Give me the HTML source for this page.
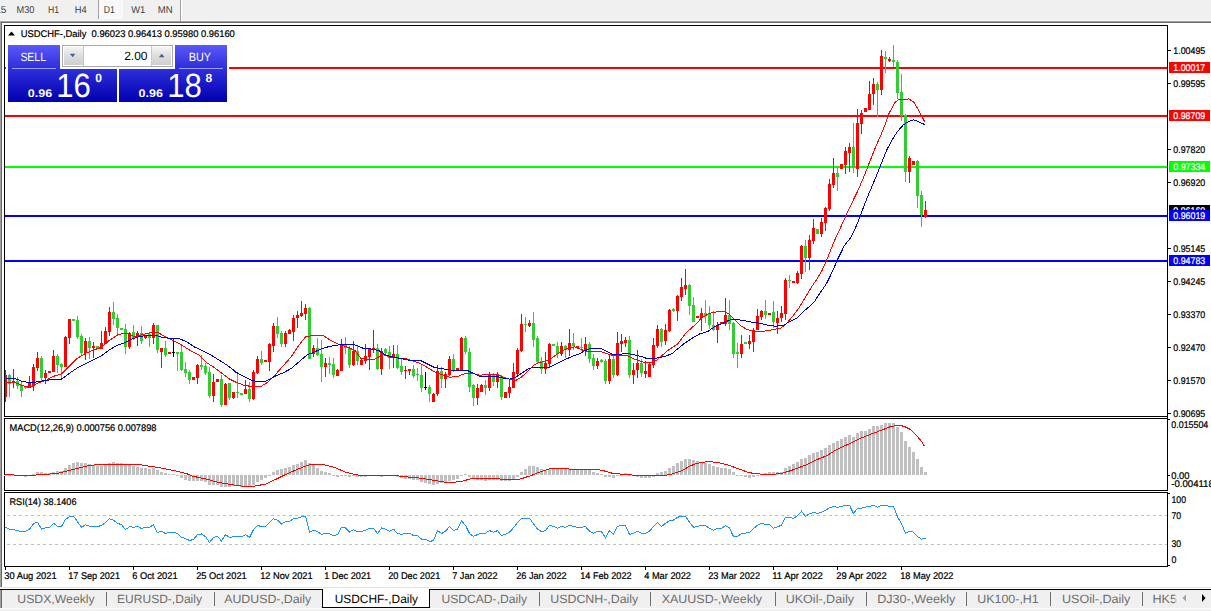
<!DOCTYPE html><html><head><meta charset="utf-8"><title>USDCHF</title><style>html,body{margin:0;padding:0;background:#fff;overflow:hidden}svg{display:block}text{font-family:"Liberation Sans", sans-serif;text-rendering:geometricPrecision}</style></head><body><svg width="1211" height="611" viewBox="0 0 1211 611" font-family='"Liberation Sans", sans-serif' shape-rendering="crispEdges">
<defs>
<linearGradient id="gb" x1="0" y1="0" x2="0" y2="1"><stop offset="0" stop-color="#5a5af6"/><stop offset="0.4" stop-color="#3030dc"/><stop offset="1" stop-color="#0000b4"/></linearGradient>
<linearGradient id="gbtn" x1="0" y1="0" x2="0" y2="1"><stop offset="0" stop-color="#f4f4f4"/><stop offset="0.5" stop-color="#dddddd"/><stop offset="1" stop-color="#cfcfcf"/></linearGradient>
<linearGradient id="gb2" gradientUnits="userSpaceOnUse" x1="0" y1="45" x2="0" y2="102"><stop offset="0" stop-color="#5a5af8"/><stop offset="0.35" stop-color="#3434e0"/><stop offset="1" stop-color="#0000b0"/></linearGradient></defs>
<rect x="0" y="0" width="1211" height="611" fill="#fff"/>
<rect x="0" y="0" width="1211" height="21" fill="#f0f0f0"/>
<rect x="0" y="20" width="1211" height="1" fill="#f6f6f6"/>
<rect x="0" y="21" width="1211" height="1" fill="#a0a0a0"/>
<rect x="1" y="22" width="1211" height="1" fill="#696969"/>
<rect x="0" y="21" width="1" height="567" fill="#a0a0a0"/>
<rect x="1" y="22" width="1" height="565" fill="#696969"/>
<rect x="99" y="0" width="24" height="19" fill="#f8f8f8"/>
<rect x="98" y="0" width="1" height="19" fill="#a0a0a0"/>
<rect x="180" y="0" width="1" height="21" fill="#a0a0a0"/>
<rect x="181" y="0" width="1" height="21" fill="#fff"/>
<text x="6.3" y="13" font-size="10" fill="#404040" text-anchor="end">15</text>
<text x="16.5" y="13" font-size="10" fill="#404040" text-anchor="start" textLength="17.9" lengthAdjust="spacingAndGlyphs">M30</text>
<text x="47.9" y="13" font-size="10" fill="#404040" text-anchor="start" textLength="11.1" lengthAdjust="spacingAndGlyphs">H1</text>
<text x="74.8" y="13" font-size="10" fill="#404040" text-anchor="start" textLength="11.9" lengthAdjust="spacingAndGlyphs">H4</text>
<text x="103.7" y="13" font-size="10" fill="#404040" text-anchor="start" textLength="11.1" lengthAdjust="spacingAndGlyphs">D1</text>
<text x="131.3" y="13" font-size="10" fill="#404040" text-anchor="start" textLength="14.0" lengthAdjust="spacingAndGlyphs">W1</text>
<text x="157.7" y="13" font-size="10" fill="#404040" text-anchor="start" textLength="14.9" lengthAdjust="spacingAndGlyphs">MN</text>
<rect x="5" y="67" width="1162" height="2" fill="#ff0000"/>
<rect x="5" y="115" width="1162" height="2" fill="#ff0000"/>
<rect x="5" y="166" width="1162" height="2" fill="#00ff00"/>
<rect x="5" y="215" width="1162" height="2" fill="#0000ff"/>
<rect x="5" y="260" width="1162" height="2" fill="#0000ff"/>
<rect x="5" y="370" width="1" height="32" fill="#ff0000"/>
<rect x="4" y="375" width="3" height="22" fill="#ff0000"/>
<rect x="9" y="374" width="1" height="23" fill="#32cd32"/>
<rect x="8" y="375" width="3" height="9" fill="#32cd32"/>
<rect x="13" y="369" width="1" height="19" fill="#ff0000"/>
<rect x="12" y="381" width="3" height="2" fill="#ff0000"/>
<rect x="17" y="377" width="1" height="12" fill="#32cd32"/>
<rect x="16" y="381" width="3" height="5" fill="#32cd32"/>
<rect x="21" y="381" width="1" height="16" fill="#32cd32"/>
<rect x="20" y="385" width="3" height="6" fill="#32cd32"/>
<rect x="25" y="386" width="1" height="3" fill="#32cd32"/>
<rect x="24" y="387" width="3" height="1" fill="#32cd32"/>
<rect x="29" y="376" width="1" height="12" fill="#ff0000"/>
<rect x="28" y="383" width="3" height="5" fill="#ff0000"/>
<rect x="33" y="364" width="1" height="27" fill="#ff0000"/>
<rect x="32" y="367" width="3" height="19" fill="#ff0000"/>
<rect x="37" y="352" width="1" height="19" fill="#ff0000"/>
<rect x="36" y="358" width="3" height="10" fill="#ff0000"/>
<rect x="41" y="356" width="1" height="25" fill="#32cd32"/>
<rect x="40" y="358" width="3" height="20" fill="#32cd32"/>
<rect x="45" y="370" width="1" height="14" fill="#ff0000"/>
<rect x="44" y="373" width="3" height="5" fill="#ff0000"/>
<rect x="49" y="371" width="1" height="2" fill="#ff0000"/>
<rect x="48" y="371" width="3" height="2" fill="#ff0000"/>
<rect x="53" y="350" width="1" height="22" fill="#ff0000"/>
<rect x="52" y="356" width="3" height="16" fill="#ff0000"/>
<rect x="57" y="354" width="1" height="19" fill="#32cd32"/>
<rect x="56" y="356" width="3" height="9" fill="#32cd32"/>
<rect x="61" y="363" width="1" height="16" fill="#32cd32"/>
<rect x="60" y="364" width="3" height="3" fill="#32cd32"/>
<rect x="65" y="336" width="1" height="31" fill="#ff0000"/>
<rect x="64" y="337" width="3" height="30" fill="#ff0000"/>
<rect x="69" y="319" width="1" height="25" fill="#ff0000"/>
<rect x="68" y="319" width="3" height="19" fill="#ff0000"/>
<rect x="73" y="319" width="1" height="2" fill="#32cd32"/>
<rect x="72" y="319" width="3" height="2" fill="#32cd32"/>
<rect x="77" y="316" width="1" height="23" fill="#32cd32"/>
<rect x="76" y="320" width="3" height="17" fill="#32cd32"/>
<rect x="81" y="334" width="1" height="21" fill="#32cd32"/>
<rect x="80" y="336" width="3" height="17" fill="#32cd32"/>
<rect x="85" y="338" width="1" height="22" fill="#ff0000"/>
<rect x="84" y="341" width="3" height="12" fill="#ff0000"/>
<rect x="89" y="337" width="1" height="22" fill="#32cd32"/>
<rect x="88" y="341" width="3" height="7" fill="#32cd32"/>
<rect x="93" y="342" width="1" height="16" fill="#ff0000"/>
<rect x="92" y="346" width="3" height="2" fill="#ff0000"/>
<rect x="97" y="346" width="1" height="3" fill="#32cd32"/>
<rect x="96" y="346" width="3" height="3" fill="#32cd32"/>
<rect x="101" y="331" width="1" height="18" fill="#ff0000"/>
<rect x="100" y="343" width="3" height="6" fill="#ff0000"/>
<rect x="105" y="327" width="1" height="17" fill="#ff0000"/>
<rect x="104" y="331" width="3" height="13" fill="#ff0000"/>
<rect x="109" y="307" width="1" height="29" fill="#ff0000"/>
<rect x="108" y="312" width="3" height="20" fill="#ff0000"/>
<rect x="113" y="302" width="1" height="23" fill="#32cd32"/>
<rect x="112" y="312" width="3" height="7" fill="#32cd32"/>
<rect x="117" y="314" width="1" height="21" fill="#32cd32"/>
<rect x="116" y="318" width="3" height="10" fill="#32cd32"/>
<rect x="121" y="328" width="1" height="2" fill="#32cd32"/>
<rect x="120" y="328" width="3" height="2" fill="#32cd32"/>
<rect x="125" y="324" width="1" height="30" fill="#32cd32"/>
<rect x="124" y="329" width="3" height="18" fill="#32cd32"/>
<rect x="129" y="332" width="1" height="17" fill="#ff0000"/>
<rect x="128" y="333" width="3" height="14" fill="#ff0000"/>
<rect x="133" y="325" width="1" height="15" fill="#32cd32"/>
<rect x="132" y="332" width="3" height="6" fill="#32cd32"/>
<rect x="137" y="331" width="1" height="15" fill="#ff0000"/>
<rect x="136" y="333" width="3" height="4" fill="#ff0000"/>
<rect x="141" y="326" width="1" height="18" fill="#32cd32"/>
<rect x="140" y="333" width="3" height="8" fill="#32cd32"/>
<rect x="145" y="335" width="1" height="4" fill="#ff0000"/>
<rect x="144" y="336" width="3" height="2" fill="#ff0000"/>
<rect x="149" y="332" width="1" height="15" fill="#32cd32"/>
<rect x="148" y="334" width="3" height="4" fill="#32cd32"/>
<rect x="153" y="323" width="1" height="21" fill="#ff0000"/>
<rect x="152" y="325" width="3" height="13" fill="#ff0000"/>
<rect x="157" y="325" width="1" height="28" fill="#32cd32"/>
<rect x="156" y="325" width="3" height="25" fill="#32cd32"/>
<rect x="161" y="348" width="1" height="20" fill="#ff0000"/>
<rect x="160" y="348" width="3" height="4" fill="#ff0000"/>
<rect x="165" y="341" width="1" height="16" fill="#32cd32"/>
<rect x="164" y="348" width="3" height="7" fill="#32cd32"/>
<rect x="169" y="352" width="1" height="2" fill="#ff0000"/>
<rect x="168" y="352" width="3" height="2" fill="#ff0000"/>
<rect x="173" y="339" width="1" height="18" fill="#000"/>
<rect x="172" y="352" width="3" height="1" fill="#000"/>
<rect x="177" y="352" width="1" height="19" fill="#32cd32"/>
<rect x="176" y="352" width="3" height="2" fill="#32cd32"/>
<rect x="181" y="344" width="1" height="27" fill="#32cd32"/>
<rect x="180" y="352" width="3" height="18" fill="#32cd32"/>
<rect x="185" y="362" width="1" height="15" fill="#32cd32"/>
<rect x="184" y="369" width="3" height="4" fill="#32cd32"/>
<rect x="189" y="370" width="1" height="14" fill="#32cd32"/>
<rect x="188" y="372" width="3" height="8" fill="#32cd32"/>
<rect x="193" y="377" width="1" height="3" fill="#ff0000"/>
<rect x="192" y="377" width="3" height="3" fill="#ff0000"/>
<rect x="197" y="364" width="1" height="20" fill="#ff0000"/>
<rect x="196" y="365" width="3" height="13" fill="#ff0000"/>
<rect x="201" y="355" width="1" height="15" fill="#32cd32"/>
<rect x="200" y="365" width="3" height="2" fill="#32cd32"/>
<rect x="205" y="363" width="1" height="12" fill="#32cd32"/>
<rect x="204" y="366" width="3" height="7" fill="#32cd32"/>
<rect x="209" y="367" width="1" height="31" fill="#32cd32"/>
<rect x="208" y="372" width="3" height="24" fill="#32cd32"/>
<rect x="213" y="374" width="1" height="28" fill="#ff0000"/>
<rect x="212" y="382" width="3" height="14" fill="#ff0000"/>
<rect x="217" y="379" width="1" height="3" fill="#ff0000"/>
<rect x="216" y="379" width="3" height="3" fill="#ff0000"/>
<rect x="221" y="375" width="1" height="32" fill="#32cd32"/>
<rect x="220" y="379" width="3" height="26" fill="#32cd32"/>
<rect x="225" y="383" width="1" height="22" fill="#ff0000"/>
<rect x="224" y="384" width="3" height="21" fill="#ff0000"/>
<rect x="229" y="383" width="1" height="17" fill="#32cd32"/>
<rect x="228" y="383" width="3" height="15" fill="#32cd32"/>
<rect x="233" y="392" width="1" height="7" fill="#ff0000"/>
<rect x="232" y="392" width="3" height="6" fill="#ff0000"/>
<rect x="237" y="374" width="1" height="24" fill="#32cd32"/>
<rect x="236" y="392" width="3" height="1" fill="#32cd32"/>
<rect x="241" y="393" width="1" height="2" fill="#32cd32"/>
<rect x="240" y="393" width="3" height="2" fill="#32cd32"/>
<rect x="245" y="380" width="1" height="14" fill="#ff0000"/>
<rect x="244" y="389" width="3" height="5" fill="#ff0000"/>
<rect x="249" y="382" width="1" height="20" fill="#32cd32"/>
<rect x="248" y="389" width="3" height="10" fill="#32cd32"/>
<rect x="253" y="370" width="1" height="30" fill="#ff0000"/>
<rect x="252" y="372" width="3" height="27" fill="#ff0000"/>
<rect x="257" y="356" width="1" height="18" fill="#ff0000"/>
<rect x="256" y="359" width="3" height="14" fill="#ff0000"/>
<rect x="261" y="351" width="1" height="14" fill="#32cd32"/>
<rect x="260" y="359" width="3" height="4" fill="#32cd32"/>
<rect x="265" y="360" width="1" height="2" fill="#ff0000"/>
<rect x="264" y="360" width="3" height="2" fill="#ff0000"/>
<rect x="269" y="343" width="1" height="28" fill="#ff0000"/>
<rect x="268" y="344" width="3" height="18" fill="#ff0000"/>
<rect x="273" y="323" width="1" height="29" fill="#ff0000"/>
<rect x="272" y="326" width="3" height="20" fill="#ff0000"/>
<rect x="277" y="317" width="1" height="21" fill="#32cd32"/>
<rect x="276" y="326" width="3" height="8" fill="#32cd32"/>
<rect x="281" y="331" width="1" height="16" fill="#32cd32"/>
<rect x="280" y="333" width="3" height="11" fill="#32cd32"/>
<rect x="285" y="331" width="1" height="16" fill="#ff0000"/>
<rect x="284" y="333" width="3" height="11" fill="#ff0000"/>
<rect x="289" y="329" width="1" height="5" fill="#ff0000"/>
<rect x="288" y="330" width="3" height="4" fill="#ff0000"/>
<rect x="293" y="315" width="1" height="26" fill="#ff0000"/>
<rect x="292" y="318" width="3" height="14" fill="#ff0000"/>
<rect x="297" y="311" width="1" height="17" fill="#ff0000"/>
<rect x="296" y="315" width="3" height="3" fill="#ff0000"/>
<rect x="301" y="301" width="1" height="16" fill="#ff0000"/>
<rect x="300" y="313" width="3" height="3" fill="#ff0000"/>
<rect x="305" y="304" width="1" height="16" fill="#ff0000"/>
<rect x="304" y="308" width="3" height="6" fill="#ff0000"/>
<rect x="309" y="307" width="1" height="52" fill="#32cd32"/>
<rect x="308" y="308" width="3" height="51" fill="#32cd32"/>
<rect x="313" y="345" width="1" height="12" fill="#ff0000"/>
<rect x="312" y="348" width="3" height="6" fill="#ff0000"/>
<rect x="317" y="338" width="1" height="18" fill="#32cd32"/>
<rect x="316" y="348" width="3" height="7" fill="#32cd32"/>
<rect x="321" y="340" width="1" height="42" fill="#32cd32"/>
<rect x="320" y="354" width="3" height="13" fill="#32cd32"/>
<rect x="325" y="358" width="1" height="19" fill="#ff0000"/>
<rect x="324" y="363" width="3" height="4" fill="#ff0000"/>
<rect x="329" y="357" width="1" height="17" fill="#32cd32"/>
<rect x="328" y="363" width="3" height="2" fill="#32cd32"/>
<rect x="333" y="358" width="1" height="20" fill="#32cd32"/>
<rect x="332" y="364" width="3" height="11" fill="#32cd32"/>
<rect x="337" y="369" width="1" height="7" fill="#ff0000"/>
<rect x="336" y="370" width="3" height="6" fill="#ff0000"/>
<rect x="341" y="339" width="1" height="32" fill="#ff0000"/>
<rect x="340" y="344" width="3" height="27" fill="#ff0000"/>
<rect x="345" y="337" width="1" height="17" fill="#32cd32"/>
<rect x="344" y="344" width="3" height="4" fill="#32cd32"/>
<rect x="349" y="346" width="1" height="22" fill="#32cd32"/>
<rect x="348" y="348" width="3" height="17" fill="#32cd32"/>
<rect x="353" y="341" width="1" height="25" fill="#ff0000"/>
<rect x="352" y="351" width="3" height="14" fill="#ff0000"/>
<rect x="357" y="346" width="1" height="19" fill="#32cd32"/>
<rect x="356" y="351" width="3" height="10" fill="#32cd32"/>
<rect x="361" y="359" width="1" height="6" fill="#ff0000"/>
<rect x="360" y="360" width="3" height="5" fill="#ff0000"/>
<rect x="365" y="344" width="1" height="20" fill="#ff0000"/>
<rect x="364" y="356" width="3" height="5" fill="#ff0000"/>
<rect x="369" y="348" width="1" height="22" fill="#ff0000"/>
<rect x="368" y="349" width="3" height="8" fill="#ff0000"/>
<rect x="373" y="330" width="1" height="23" fill="#ff0000"/>
<rect x="372" y="348" width="3" height="2" fill="#ff0000"/>
<rect x="377" y="344" width="1" height="26" fill="#32cd32"/>
<rect x="376" y="348" width="3" height="21" fill="#32cd32"/>
<rect x="381" y="348" width="1" height="27" fill="#ff0000"/>
<rect x="380" y="351" width="3" height="18" fill="#ff0000"/>
<rect x="385" y="348" width="1" height="6" fill="#32cd32"/>
<rect x="384" y="349" width="3" height="4" fill="#32cd32"/>
<rect x="389" y="346" width="1" height="23" fill="#32cd32"/>
<rect x="388" y="352" width="3" height="6" fill="#32cd32"/>
<rect x="393" y="345" width="1" height="23" fill="#ff0000"/>
<rect x="392" y="354" width="3" height="4" fill="#ff0000"/>
<rect x="397" y="345" width="1" height="24" fill="#32cd32"/>
<rect x="396" y="354" width="3" height="14" fill="#32cd32"/>
<rect x="401" y="358" width="1" height="17" fill="#32cd32"/>
<rect x="400" y="366" width="3" height="6" fill="#32cd32"/>
<rect x="405" y="366" width="1" height="13" fill="#ff0000"/>
<rect x="404" y="370" width="3" height="1" fill="#ff0000"/>
<rect x="409" y="369" width="1" height="6" fill="#ff0000"/>
<rect x="408" y="369" width="3" height="2" fill="#ff0000"/>
<rect x="413" y="365" width="1" height="13" fill="#32cd32"/>
<rect x="412" y="369" width="3" height="7" fill="#32cd32"/>
<rect x="417" y="368" width="1" height="13" fill="#32cd32"/>
<rect x="416" y="374" width="3" height="1" fill="#32cd32"/>
<rect x="421" y="364" width="1" height="28" fill="#32cd32"/>
<rect x="420" y="375" width="3" height="13" fill="#32cd32"/>
<rect x="425" y="372" width="1" height="18" fill="#000"/>
<rect x="424" y="387" width="3" height="1" fill="#000"/>
<rect x="429" y="385" width="1" height="17" fill="#32cd32"/>
<rect x="428" y="387" width="3" height="7" fill="#32cd32"/>
<rect x="433" y="393" width="1" height="9" fill="#ff0000"/>
<rect x="432" y="394" width="3" height="8" fill="#ff0000"/>
<rect x="437" y="365" width="1" height="31" fill="#ff0000"/>
<rect x="436" y="371" width="3" height="23" fill="#ff0000"/>
<rect x="441" y="367" width="1" height="21" fill="#32cd32"/>
<rect x="440" y="371" width="3" height="8" fill="#32cd32"/>
<rect x="445" y="372" width="1" height="16" fill="#ff0000"/>
<rect x="444" y="374" width="3" height="5" fill="#ff0000"/>
<rect x="449" y="356" width="1" height="20" fill="#ff0000"/>
<rect x="448" y="359" width="3" height="16" fill="#ff0000"/>
<rect x="453" y="354" width="1" height="18" fill="#32cd32"/>
<rect x="452" y="359" width="3" height="12" fill="#32cd32"/>
<rect x="457" y="368" width="1" height="3" fill="#ff0000"/>
<rect x="456" y="368" width="3" height="3" fill="#ff0000"/>
<rect x="461" y="337" width="1" height="33" fill="#ff0000"/>
<rect x="460" y="338" width="3" height="32" fill="#ff0000"/>
<rect x="465" y="336" width="1" height="18" fill="#32cd32"/>
<rect x="464" y="338" width="3" height="14" fill="#32cd32"/>
<rect x="469" y="348" width="1" height="44" fill="#32cd32"/>
<rect x="468" y="352" width="3" height="35" fill="#32cd32"/>
<rect x="473" y="384" width="1" height="22" fill="#32cd32"/>
<rect x="472" y="385" width="3" height="13" fill="#32cd32"/>
<rect x="477" y="384" width="1" height="21" fill="#ff0000"/>
<rect x="476" y="388" width="3" height="10" fill="#ff0000"/>
<rect x="481" y="384" width="1" height="8" fill="#ff0000"/>
<rect x="480" y="385" width="3" height="7" fill="#ff0000"/>
<rect x="485" y="380" width="1" height="15" fill="#32cd32"/>
<rect x="484" y="385" width="3" height="3" fill="#32cd32"/>
<rect x="489" y="372" width="1" height="19" fill="#ff0000"/>
<rect x="488" y="374" width="3" height="14" fill="#ff0000"/>
<rect x="493" y="373" width="1" height="13" fill="#32cd32"/>
<rect x="492" y="374" width="3" height="8" fill="#32cd32"/>
<rect x="497" y="372" width="1" height="16" fill="#ff0000"/>
<rect x="496" y="375" width="3" height="7" fill="#ff0000"/>
<rect x="501" y="375" width="1" height="25" fill="#32cd32"/>
<rect x="500" y="376" width="3" height="21" fill="#32cd32"/>
<rect x="505" y="392" width="1" height="6" fill="#ff0000"/>
<rect x="504" y="392" width="3" height="6" fill="#ff0000"/>
<rect x="509" y="379" width="1" height="19" fill="#ff0000"/>
<rect x="508" y="387" width="3" height="6" fill="#ff0000"/>
<rect x="513" y="363" width="1" height="25" fill="#ff0000"/>
<rect x="512" y="372" width="3" height="16" fill="#ff0000"/>
<rect x="517" y="348" width="1" height="28" fill="#ff0000"/>
<rect x="516" y="350" width="3" height="24" fill="#ff0000"/>
<rect x="521" y="314" width="1" height="38" fill="#ff0000"/>
<rect x="520" y="324" width="3" height="27" fill="#ff0000"/>
<rect x="525" y="317" width="1" height="15" fill="#32cd32"/>
<rect x="524" y="324" width="3" height="1" fill="#32cd32"/>
<rect x="529" y="320" width="1" height="7" fill="#ff0000"/>
<rect x="528" y="323" width="3" height="3" fill="#ff0000"/>
<rect x="533" y="312" width="1" height="35" fill="#32cd32"/>
<rect x="532" y="323" width="3" height="17" fill="#32cd32"/>
<rect x="537" y="336" width="1" height="27" fill="#32cd32"/>
<rect x="536" y="338" width="3" height="24" fill="#32cd32"/>
<rect x="541" y="357" width="1" height="17" fill="#32cd32"/>
<rect x="540" y="361" width="3" height="8" fill="#32cd32"/>
<rect x="545" y="352" width="1" height="22" fill="#ff0000"/>
<rect x="544" y="363" width="3" height="6" fill="#ff0000"/>
<rect x="549" y="343" width="1" height="25" fill="#ff0000"/>
<rect x="548" y="344" width="3" height="20" fill="#ff0000"/>
<rect x="553" y="344" width="1" height="2" fill="#32cd32"/>
<rect x="552" y="344" width="3" height="2" fill="#32cd32"/>
<rect x="557" y="342" width="1" height="16" fill="#32cd32"/>
<rect x="556" y="346" width="3" height="8" fill="#32cd32"/>
<rect x="561" y="342" width="1" height="14" fill="#ff0000"/>
<rect x="560" y="346" width="3" height="8" fill="#ff0000"/>
<rect x="565" y="345" width="1" height="13" fill="#32cd32"/>
<rect x="564" y="346" width="3" height="4" fill="#32cd32"/>
<rect x="569" y="329" width="1" height="27" fill="#ff0000"/>
<rect x="568" y="343" width="3" height="7" fill="#ff0000"/>
<rect x="573" y="333" width="1" height="17" fill="#32cd32"/>
<rect x="572" y="343" width="3" height="3" fill="#32cd32"/>
<rect x="577" y="346" width="1" height="2" fill="#ff0000"/>
<rect x="576" y="346" width="3" height="2" fill="#ff0000"/>
<rect x="581" y="338" width="1" height="13" fill="#32cd32"/>
<rect x="580" y="347" width="3" height="1" fill="#32cd32"/>
<rect x="585" y="337" width="1" height="19" fill="#ff0000"/>
<rect x="584" y="344" width="3" height="6" fill="#ff0000"/>
<rect x="589" y="342" width="1" height="21" fill="#32cd32"/>
<rect x="588" y="344" width="3" height="15" fill="#32cd32"/>
<rect x="593" y="354" width="1" height="16" fill="#32cd32"/>
<rect x="592" y="358" width="3" height="8" fill="#32cd32"/>
<rect x="597" y="358" width="1" height="11" fill="#ff0000"/>
<rect x="596" y="361" width="3" height="5" fill="#ff0000"/>
<rect x="601" y="359" width="1" height="4" fill="#32cd32"/>
<rect x="600" y="360" width="3" height="2" fill="#32cd32"/>
<rect x="605" y="359" width="1" height="25" fill="#32cd32"/>
<rect x="604" y="361" width="3" height="20" fill="#32cd32"/>
<rect x="609" y="354" width="1" height="30" fill="#ff0000"/>
<rect x="608" y="359" width="3" height="22" fill="#ff0000"/>
<rect x="613" y="354" width="1" height="24" fill="#32cd32"/>
<rect x="612" y="359" width="3" height="16" fill="#32cd32"/>
<rect x="617" y="332" width="1" height="44" fill="#ff0000"/>
<rect x="616" y="343" width="3" height="32" fill="#ff0000"/>
<rect x="621" y="334" width="1" height="18" fill="#ff0000"/>
<rect x="620" y="341" width="3" height="3" fill="#ff0000"/>
<rect x="625" y="337" width="1" height="10" fill="#ff0000"/>
<rect x="624" y="340" width="3" height="3" fill="#ff0000"/>
<rect x="629" y="336" width="1" height="42" fill="#32cd32"/>
<rect x="628" y="340" width="3" height="35" fill="#32cd32"/>
<rect x="633" y="363" width="1" height="21" fill="#ff0000"/>
<rect x="632" y="370" width="3" height="5" fill="#ff0000"/>
<rect x="637" y="350" width="1" height="28" fill="#ff0000"/>
<rect x="636" y="363" width="3" height="7" fill="#ff0000"/>
<rect x="641" y="359" width="1" height="18" fill="#32cd32"/>
<rect x="640" y="363" width="3" height="10" fill="#32cd32"/>
<rect x="645" y="361" width="1" height="17" fill="#ff0000"/>
<rect x="644" y="371" width="3" height="3" fill="#ff0000"/>
<rect x="649" y="362" width="1" height="15" fill="#ff0000"/>
<rect x="648" y="364" width="3" height="13" fill="#ff0000"/>
<rect x="653" y="338" width="1" height="30" fill="#ff0000"/>
<rect x="652" y="345" width="3" height="20" fill="#ff0000"/>
<rect x="657" y="325" width="1" height="23" fill="#ff0000"/>
<rect x="656" y="329" width="3" height="17" fill="#ff0000"/>
<rect x="661" y="328" width="1" height="19" fill="#32cd32"/>
<rect x="660" y="329" width="3" height="13" fill="#32cd32"/>
<rect x="665" y="324" width="1" height="21" fill="#ff0000"/>
<rect x="664" y="330" width="3" height="11" fill="#ff0000"/>
<rect x="669" y="309" width="1" height="23" fill="#ff0000"/>
<rect x="668" y="310" width="3" height="21" fill="#ff0000"/>
<rect x="673" y="308" width="1" height="4" fill="#32cd32"/>
<rect x="672" y="309" width="3" height="2" fill="#32cd32"/>
<rect x="677" y="295" width="1" height="26" fill="#ff0000"/>
<rect x="676" y="296" width="3" height="15" fill="#ff0000"/>
<rect x="681" y="278" width="1" height="23" fill="#ff0000"/>
<rect x="680" y="287" width="3" height="10" fill="#ff0000"/>
<rect x="685" y="269" width="1" height="26" fill="#ff0000"/>
<rect x="684" y="285" width="3" height="4" fill="#ff0000"/>
<rect x="689" y="284" width="1" height="31" fill="#32cd32"/>
<rect x="688" y="285" width="3" height="21" fill="#32cd32"/>
<rect x="693" y="297" width="1" height="25" fill="#32cd32"/>
<rect x="692" y="305" width="3" height="17" fill="#32cd32"/>
<rect x="697" y="316" width="1" height="2" fill="#ff0000"/>
<rect x="696" y="316" width="3" height="2" fill="#ff0000"/>
<rect x="701" y="308" width="1" height="23" fill="#ff0000"/>
<rect x="700" y="313" width="3" height="5" fill="#ff0000"/>
<rect x="705" y="300" width="1" height="23" fill="#32cd32"/>
<rect x="704" y="313" width="3" height="3" fill="#32cd32"/>
<rect x="709" y="306" width="1" height="23" fill="#32cd32"/>
<rect x="708" y="313" width="3" height="12" fill="#32cd32"/>
<rect x="713" y="311" width="1" height="20" fill="#32cd32"/>
<rect x="712" y="325" width="3" height="5" fill="#32cd32"/>
<rect x="717" y="322" width="1" height="21" fill="#ff0000"/>
<rect x="716" y="325" width="3" height="5" fill="#ff0000"/>
<rect x="721" y="322" width="1" height="2" fill="#ff0000"/>
<rect x="720" y="322" width="3" height="2" fill="#ff0000"/>
<rect x="725" y="298" width="1" height="28" fill="#ff0000"/>
<rect x="724" y="315" width="3" height="9" fill="#ff0000"/>
<rect x="729" y="300" width="1" height="30" fill="#32cd32"/>
<rect x="728" y="315" width="3" height="9" fill="#32cd32"/>
<rect x="733" y="322" width="1" height="36" fill="#32cd32"/>
<rect x="732" y="323" width="3" height="31" fill="#32cd32"/>
<rect x="737" y="343" width="1" height="25" fill="#32cd32"/>
<rect x="736" y="352" width="3" height="2" fill="#32cd32"/>
<rect x="741" y="335" width="1" height="23" fill="#ff0000"/>
<rect x="740" y="344" width="3" height="10" fill="#ff0000"/>
<rect x="745" y="342" width="1" height="2" fill="#32cd32"/>
<rect x="744" y="342" width="3" height="2" fill="#32cd32"/>
<rect x="749" y="335" width="1" height="14" fill="#ff0000"/>
<rect x="748" y="341" width="3" height="3" fill="#ff0000"/>
<rect x="753" y="328" width="1" height="24" fill="#ff0000"/>
<rect x="752" y="330" width="3" height="12" fill="#ff0000"/>
<rect x="757" y="309" width="1" height="21" fill="#ff0000"/>
<rect x="756" y="316" width="3" height="14" fill="#ff0000"/>
<rect x="761" y="310" width="1" height="10" fill="#ff0000"/>
<rect x="760" y="311" width="3" height="6" fill="#ff0000"/>
<rect x="765" y="300" width="1" height="19" fill="#32cd32"/>
<rect x="764" y="311" width="3" height="4" fill="#32cd32"/>
<rect x="769" y="313" width="1" height="2" fill="#ff0000"/>
<rect x="768" y="313" width="3" height="2" fill="#ff0000"/>
<rect x="773" y="301" width="1" height="27" fill="#32cd32"/>
<rect x="772" y="312" width="3" height="10" fill="#32cd32"/>
<rect x="777" y="311" width="1" height="23" fill="#ff0000"/>
<rect x="776" y="318" width="3" height="5" fill="#ff0000"/>
<rect x="781" y="306" width="1" height="16" fill="#ff0000"/>
<rect x="780" y="313" width="3" height="5" fill="#ff0000"/>
<rect x="785" y="278" width="1" height="42" fill="#ff0000"/>
<rect x="784" y="280" width="3" height="34" fill="#ff0000"/>
<rect x="789" y="275" width="1" height="13" fill="#32cd32"/>
<rect x="788" y="280" width="3" height="1" fill="#32cd32"/>
<rect x="793" y="281" width="1" height="2" fill="#ff0000"/>
<rect x="792" y="281" width="3" height="2" fill="#ff0000"/>
<rect x="797" y="271" width="1" height="13" fill="#ff0000"/>
<rect x="796" y="273" width="3" height="10" fill="#ff0000"/>
<rect x="801" y="245" width="1" height="34" fill="#ff0000"/>
<rect x="800" y="246" width="3" height="28" fill="#ff0000"/>
<rect x="805" y="240" width="1" height="32" fill="#32cd32"/>
<rect x="804" y="246" width="3" height="12" fill="#32cd32"/>
<rect x="809" y="235" width="1" height="35" fill="#ff0000"/>
<rect x="808" y="240" width="3" height="18" fill="#ff0000"/>
<rect x="813" y="219" width="1" height="25" fill="#ff0000"/>
<rect x="812" y="228" width="3" height="13" fill="#ff0000"/>
<rect x="817" y="229" width="1" height="5" fill="#32cd32"/>
<rect x="816" y="229" width="3" height="5" fill="#32cd32"/>
<rect x="821" y="218" width="1" height="19" fill="#ff0000"/>
<rect x="820" y="222" width="3" height="12" fill="#ff0000"/>
<rect x="825" y="207" width="1" height="24" fill="#ff0000"/>
<rect x="824" y="208" width="3" height="15" fill="#ff0000"/>
<rect x="829" y="179" width="1" height="32" fill="#ff0000"/>
<rect x="828" y="184" width="3" height="25" fill="#ff0000"/>
<rect x="833" y="158" width="1" height="30" fill="#ff0000"/>
<rect x="832" y="173" width="3" height="12" fill="#ff0000"/>
<rect x="837" y="168" width="1" height="23" fill="#32cd32"/>
<rect x="836" y="173" width="3" height="4" fill="#32cd32"/>
<rect x="841" y="164" width="1" height="5" fill="#ff0000"/>
<rect x="840" y="164" width="3" height="5" fill="#ff0000"/>
<rect x="845" y="147" width="1" height="27" fill="#ff0000"/>
<rect x="844" y="151" width="3" height="14" fill="#ff0000"/>
<rect x="849" y="143" width="1" height="29" fill="#ff0000"/>
<rect x="848" y="147" width="3" height="6" fill="#ff0000"/>
<rect x="853" y="123" width="1" height="50" fill="#32cd32"/>
<rect x="852" y="147" width="3" height="21" fill="#32cd32"/>
<rect x="857" y="109" width="1" height="68" fill="#ff0000"/>
<rect x="856" y="123" width="3" height="46" fill="#ff0000"/>
<rect x="861" y="110" width="1" height="24" fill="#ff0000"/>
<rect x="860" y="113" width="3" height="11" fill="#ff0000"/>
<rect x="865" y="108" width="1" height="4" fill="#ff0000"/>
<rect x="864" y="108" width="3" height="4" fill="#ff0000"/>
<rect x="869" y="81" width="1" height="29" fill="#ff0000"/>
<rect x="868" y="94" width="3" height="16" fill="#ff0000"/>
<rect x="873" y="78" width="1" height="27" fill="#ff0000"/>
<rect x="872" y="84" width="3" height="10" fill="#ff0000"/>
<rect x="877" y="82" width="1" height="35" fill="#32cd32"/>
<rect x="876" y="84" width="3" height="6" fill="#32cd32"/>
<rect x="881" y="50" width="1" height="45" fill="#ff0000"/>
<rect x="880" y="56" width="3" height="34" fill="#ff0000"/>
<rect x="885" y="51" width="1" height="22" fill="#32cd32"/>
<rect x="884" y="57" width="3" height="2" fill="#32cd32"/>
<rect x="889" y="57" width="1" height="5" fill="#ff0000"/>
<rect x="888" y="59" width="3" height="2" fill="#ff0000"/>
<rect x="893" y="45" width="1" height="22" fill="#32cd32"/>
<rect x="892" y="60" width="3" height="2" fill="#32cd32"/>
<rect x="897" y="60" width="1" height="39" fill="#32cd32"/>
<rect x="896" y="62" width="3" height="31" fill="#32cd32"/>
<rect x="901" y="74" width="1" height="47" fill="#32cd32"/>
<rect x="900" y="92" width="3" height="24" fill="#32cd32"/>
<rect x="905" y="114" width="1" height="68" fill="#32cd32"/>
<rect x="904" y="115" width="3" height="57" fill="#32cd32"/>
<rect x="909" y="156" width="1" height="27" fill="#ff0000"/>
<rect x="908" y="158" width="3" height="14" fill="#ff0000"/>
<rect x="913" y="161" width="1" height="4" fill="#ff0000"/>
<rect x="912" y="161" width="3" height="4" fill="#ff0000"/>
<rect x="917" y="160" width="1" height="48" fill="#32cd32"/>
<rect x="916" y="161" width="3" height="35" fill="#32cd32"/>
<rect x="921" y="191" width="1" height="36" fill="#32cd32"/>
<rect x="920" y="195" width="3" height="20" fill="#32cd32"/>
<rect x="925" y="201" width="1" height="17" fill="#ff0000"/>
<rect x="924" y="210" width="3" height="7" fill="#ff0000"/>
<polyline points="5.5,383.2 13.9,382.2 21.8,385.2 29.7,387.7 37.7,383.2 45.6,380.6 53.5,376.3 61.4,373.9 69.4,366.3 77.3,358.4 85.2,353.5 93.1,350.1 101.1,347.5 109.0,340.6 118.9,334.2 126.8,333.6 134.8,336.6 142.7,334.6 150.6,332.7 158.5,332.7 166.5,337.6 174.4,341.0 182.3,345.5 190.2,350.5 198.2,354.5 206.1,362.4 214.0,367.3 222.0,373.3 229.9,379.2 236.0,382.2 243.9,385.2 251.9,386.6 260.8,386.6 267.7,382.2 275.6,374.3 283.6,365.4 291.5,356.4 299.4,344.5 305.4,337.0 311.3,335.6 323.2,335.6 331.1,340.6 339.0,344.5 347.0,346.9 354.9,350.5 360.9,358.4 366.8,359.4 374.7,359.4 382.6,354.5 390.6,357.4 398.5,358.0 406.4,358.8 414.4,361.4 422.3,364.4 430.2,369.3 436.2,372.7 444.1,375.3 450.0,377.2 458.0,376.3 465.9,373.3 472.0,373.3 479.9,375.3 487.9,374.3 496.8,374.3 503.7,377.2 509.7,379.2 515.6,380.6 521.5,377.2 527.5,371.3 533.4,365.4 539.4,362.4 545.3,361.4 551.3,358.4 557.2,354.1 563.2,350.5 569.1,347.5 575.0,346.9 581.0,349.5 586.9,351.5 600.8,351.5 606.8,353.5 612.7,355.4 618.6,355.0 626.6,355.4 632.5,358.4 638.5,360.4 644.4,362.4 650.4,362.8 656.3,360.4 662.2,355.4 667.8,350.5 677.8,343.9 685.8,333.0 693.7,326.1 701.6,318.1 709.5,313.2 717.5,311.8 723.4,311.2 729.4,314.2 735.3,320.1 741.3,326.1 747.2,329.6 753.1,331.0 759.1,331.6 765.0,331.0 773.0,329.6 780.9,328.1 786.8,323.1 792.8,316.2 798.7,308.2 804.7,298.3 810.6,288.4 816.6,279.5 822.5,269.6 828.4,255.7 834.4,240.9 840.3,228.0 845.2,217.2 851.2,204.3 857.1,192.4 863.1,178.5 869.0,163.6 874.9,148.8 880.9,134.9 884.9,125.0 889.1,113.3 895.0,102.4 899.0,99.4 904.0,100.0 908.9,98.8 913.9,102.4 918.8,110.3 922.8,118.2 924.8,122.2" fill="none" stroke="#ff0000" stroke-width="1" shape-rendering="crispEdges"/>
<polyline points="5.5,378.2 13.9,378.2 21.8,381.2 29.7,382.6 37.7,381.8 45.6,380.2 53.5,379.8 61.4,379.2 69.4,373.3 77.3,367.9 85.2,364.0 93.1,360.0 101.1,356.0 109.0,350.1 116.9,345.5 124.9,342.6 132.8,338.6 140.7,336.2 148.6,335.6 156.6,335.6 162.5,337.6 170.4,338.2 178.4,338.2 186.3,341.6 194.2,346.9 202.1,350.5 210.1,354.5 218.0,359.4 225.9,364.4 233.9,370.3 236.0,372.3 243.9,376.3 251.9,380.6 259.8,381.8 265.7,381.2 275.6,375.9 283.6,372.7 291.5,368.3 299.4,361.4 307.3,354.8 315.3,351.5 323.2,348.1 331.1,346.1 339.0,344.9 347.0,344.1 354.9,344.9 362.8,348.1 370.8,348.9 378.7,350.5 386.6,355.4 394.5,357.4 402.5,358.8 410.4,360.4 420.3,360.4 426.2,363.4 434.2,367.3 442.1,368.7 450.0,369.9 458.0,370.7 467.9,370.7 472.0,372.7 479.9,376.3 487.9,376.6 495.8,376.3 503.7,378.2 509.7,379.2 515.6,377.2 521.5,373.3 527.5,369.3 533.4,367.3 541.4,367.3 548.3,367.9 555.2,364.4 563.2,360.4 571.1,356.8 579.0,354.1 585.0,350.5 590.9,348.5 600.8,348.5 606.8,351.5 612.7,354.5 618.6,354.8 624.6,353.5 630.5,354.1 636.5,355.4 642.4,356.8 646.4,358.4 654.3,358.4 660.3,357.4 666.2,356.0 672.2,353.5 678.1,348.5 683.8,343.9 691.7,338.4 699.6,334.0 707.6,331.6 715.5,326.1 723.4,323.1 729.4,320.1 735.3,319.1 743.2,320.5 751.2,322.1 759.1,323.1 767.0,325.1 774.9,326.1 782.9,325.7 788.8,322.1 796.7,318.1 802.7,312.2 808.6,307.2 814.6,301.3 820.5,292.4 826.5,283.5 832.4,271.6 838.4,257.7 844.3,245.8 851.2,237.0 857.1,224.1 863.1,208.2 869.0,193.4 874.9,179.5 880.9,164.6 886.8,149.8 892.0,140.0 897.0,132.1 903.0,125.2 908.9,121.2 913.9,119.8 918.8,121.8 924.8,124.6" fill="none" stroke="#0000cd" stroke-width="1" shape-rendering="crispEdges"/>
<rect x="4" y="25" width="1164" height="1" fill="#000"/>
<rect x="4" y="25" width="1" height="392" fill="#000"/>
<rect x="4" y="416" width="1164" height="1" fill="#000"/>
<rect x="1167" y="25" width="1" height="466" fill="#000"/>
<rect x="1167" y="492" width="1" height="75" fill="#000"/>
<path d="M8 35.6 L11.5 31.6 L15 35.6 Z" fill="#000" shape-rendering="auto"/>
<text x="20.8" y="37" font-size="9.7" fill="#000" text-anchor="start" textLength="214" lengthAdjust="spacingAndGlyphs" stroke="#000" stroke-width="0.22">USDCHF-,Daily  0.96023 0.96413 0.95980 0.96160</text>
<rect x="1168" y="50" width="3" height="1" fill="#000"/>
<text x="1173.3" y="54.0" font-size="9.7" fill="#000" text-anchor="start" textLength="32" lengthAdjust="spacingAndGlyphs" stroke="#000" stroke-width="0.22">1.00495</text>
<rect x="1168" y="83" width="3" height="1" fill="#000"/>
<text x="1173.3" y="87.0" font-size="9.7" fill="#000" text-anchor="start" textLength="32" lengthAdjust="spacingAndGlyphs" stroke="#000" stroke-width="0.22">0.99595</text>
<rect x="1168" y="149" width="3" height="1" fill="#000"/>
<text x="1173.3" y="153.0" font-size="9.7" fill="#000" text-anchor="start" textLength="32" lengthAdjust="spacingAndGlyphs" stroke="#000" stroke-width="0.22">0.97820</text>
<rect x="1168" y="182" width="3" height="1" fill="#000"/>
<text x="1173.3" y="186.0" font-size="9.7" fill="#000" text-anchor="start" textLength="32" lengthAdjust="spacingAndGlyphs" stroke="#000" stroke-width="0.22">0.96920</text>
<rect x="1168" y="248" width="3" height="1" fill="#000"/>
<text x="1173.3" y="252.0" font-size="9.7" fill="#000" text-anchor="start" textLength="32" lengthAdjust="spacingAndGlyphs" stroke="#000" stroke-width="0.22">0.95145</text>
<rect x="1168" y="281" width="3" height="1" fill="#000"/>
<text x="1173.3" y="285.0" font-size="9.7" fill="#000" text-anchor="start" textLength="32" lengthAdjust="spacingAndGlyphs" stroke="#000" stroke-width="0.22">0.94245</text>
<rect x="1168" y="314" width="3" height="1" fill="#000"/>
<text x="1173.3" y="318.0" font-size="9.7" fill="#000" text-anchor="start" textLength="32" lengthAdjust="spacingAndGlyphs" stroke="#000" stroke-width="0.22">0.93370</text>
<rect x="1168" y="347" width="3" height="1" fill="#000"/>
<text x="1173.3" y="351.0" font-size="9.7" fill="#000" text-anchor="start" textLength="32" lengthAdjust="spacingAndGlyphs" stroke="#000" stroke-width="0.22">0.92470</text>
<rect x="1168" y="380" width="3" height="1" fill="#000"/>
<text x="1173.3" y="384.0" font-size="9.7" fill="#000" text-anchor="start" textLength="32" lengthAdjust="spacingAndGlyphs" stroke="#000" stroke-width="0.22">0.91570</text>
<rect x="1168" y="413" width="3" height="1" fill="#000"/>
<text x="1173.3" y="417.0" font-size="9.7" fill="#000" text-anchor="start" textLength="32" lengthAdjust="spacingAndGlyphs" stroke="#000" stroke-width="0.22">0.90695</text>
<rect x="1169" y="205" width="41" height="11" fill="#000"/>
<text x="1173.3" y="214" font-size="9.7" fill="#fff" text-anchor="start" textLength="32" lengthAdjust="spacingAndGlyphs" stroke="#fff" stroke-width="0.22">0.96160</text>
<rect x="1169" y="62" width="41" height="11" fill="#ff0000"/>
<text x="1173.3" y="71" font-size="9.7" fill="#fff" text-anchor="start" textLength="32" lengthAdjust="spacingAndGlyphs" stroke="#fff" stroke-width="0.22">1.00017</text>
<rect x="1169" y="110" width="41" height="11" fill="#ff0000"/>
<text x="1173.3" y="119" font-size="9.7" fill="#fff" text-anchor="start" textLength="32" lengthAdjust="spacingAndGlyphs" stroke="#fff" stroke-width="0.22">0.98709</text>
<rect x="1169" y="161" width="41" height="11" fill="#00ff00"/>
<text x="1173.3" y="170" font-size="9.7" fill="#fff" text-anchor="start" textLength="32" lengthAdjust="spacingAndGlyphs" stroke="#fff" stroke-width="0.22">0.97334</text>
<rect x="1169" y="210" width="41" height="11" fill="#0000ff"/>
<text x="1173.3" y="219" font-size="9.7" fill="#fff" text-anchor="start" textLength="32" lengthAdjust="spacingAndGlyphs" stroke="#fff" stroke-width="0.22">0.96019</text>
<rect x="1169" y="255" width="41" height="11" fill="#0000ff"/>
<text x="1173.3" y="264" font-size="9.7" fill="#fff" text-anchor="start" textLength="32" lengthAdjust="spacingAndGlyphs" stroke="#fff" stroke-width="0.22">0.94783</text>
<rect x="6" y="44" width="223" height="59" fill="#fff"/>
<rect x="8" y="45" width="52" height="24" fill="url(#gb)"/>
<rect x="8" y="45" width="109" height="57" fill="none"/>
<path d="M8 45 H60 V69 H117 V102 H8 Z" fill="url(#gb2)"/>
<path d="M227 45 H175 V69 H119 V102 H227 Z" fill="url(#gb2)"/>
<rect x="12" y="68" width="44" height="1" fill="#9c9cf0"/>
<rect x="179" y="68" width="44" height="1" fill="#9c9cf0"/>
<text x="20.4" y="61" font-size="12" fill="#fff" text-anchor="start" textLength="25.6" lengthAdjust="spacingAndGlyphs">SELL</text>
<text x="188.7" y="61" font-size="12" fill="#fff" text-anchor="start" textLength="22.3" lengthAdjust="spacingAndGlyphs">BUY</text>
<rect x="62.5" y="45.5" width="110" height="21" fill="#fff" stroke="#a9a9a9" stroke-width="1"/>
<rect x="64" y="47" width="19" height="18" fill="url(#gbtn)"/>
<rect x="83" y="46" width="1" height="20" fill="#c8c8c8"/>
<rect x="152" y="47" width="19" height="18" fill="url(#gbtn)"/>
<rect x="151" y="46" width="1" height="20" fill="#c8c8c8"/>
<path d="M69.8 53.8 L75.4 53.8 L72.6 57.2 Z" fill="#4a5a9a" shape-rendering="auto"/>
<path d="M158.9 57.2 L164.5 57.2 L161.7 53.8 Z" fill="#4a5a9a" shape-rendering="auto"/>
<text x="147.5" y="60" font-size="12" fill="#000" text-anchor="end">2.00</text>
<text x="27.8" y="97" font-size="11" fill="#fff" text-anchor="start" textLength="24.4" lengthAdjust="spacingAndGlyphs" font-weight="bold">0.96</text>
<text x="56.2" y="97" font-size="33.5" fill="#fff" text-anchor="start" textLength="34.6" lengthAdjust="spacingAndGlyphs">16</text>
<text x="95.2" y="81.5" font-size="12" fill="#fff" text-anchor="start" font-weight="bold">0</text>
<text x="138.5" y="97" font-size="11" fill="#fff" text-anchor="start" textLength="24.4" lengthAdjust="spacingAndGlyphs" font-weight="bold">0.96</text>
<text x="167.2" y="97" font-size="33.5" fill="#fff" text-anchor="start" textLength="34.6" lengthAdjust="spacingAndGlyphs">18</text>
<text x="205.5" y="81.5" font-size="12" fill="#fff" text-anchor="start" font-weight="bold">8</text>
<rect x="4" y="418" width="1164" height="1" fill="#000"/>
<rect x="4" y="418" width="1" height="73" fill="#000"/>
<rect x="4" y="490" width="1164" height="1" fill="#000"/>
<rect x="4" y="475" width="3" height="1" fill="#c0c0c0"/>
<rect x="8" y="475" width="3" height="1" fill="#c0c0c0"/>
<rect x="12" y="475" width="3" height="1" fill="#c0c0c0"/>
<rect x="16" y="475" width="3" height="1" fill="#c0c0c0"/>
<rect x="20" y="475" width="3" height="1" fill="#c0c0c0"/>
<rect x="24" y="475" width="3" height="2" fill="#c0c0c0"/>
<rect x="28" y="475" width="3" height="1" fill="#c0c0c0"/>
<rect x="32" y="474" width="3" height="1" fill="#c0c0c0"/>
<rect x="36" y="472" width="3" height="3" fill="#c0c0c0"/>
<rect x="40" y="472" width="3" height="3" fill="#c0c0c0"/>
<rect x="44" y="473" width="3" height="2" fill="#c0c0c0"/>
<rect x="48" y="473" width="3" height="2" fill="#c0c0c0"/>
<rect x="52" y="472" width="3" height="3" fill="#c0c0c0"/>
<rect x="56" y="471" width="3" height="4" fill="#c0c0c0"/>
<rect x="60" y="471" width="3" height="4" fill="#c0c0c0"/>
<rect x="64" y="468" width="3" height="7" fill="#c0c0c0"/>
<rect x="68" y="465" width="3" height="10" fill="#c0c0c0"/>
<rect x="72" y="463" width="3" height="12" fill="#c0c0c0"/>
<rect x="76" y="462" width="3" height="13" fill="#c0c0c0"/>
<rect x="80" y="463" width="3" height="12" fill="#c0c0c0"/>
<rect x="84" y="463" width="3" height="12" fill="#c0c0c0"/>
<rect x="88" y="464" width="3" height="11" fill="#c0c0c0"/>
<rect x="92" y="465" width="3" height="10" fill="#c0c0c0"/>
<rect x="96" y="466" width="3" height="9" fill="#c0c0c0"/>
<rect x="100" y="466" width="3" height="9" fill="#c0c0c0"/>
<rect x="104" y="465" width="3" height="10" fill="#c0c0c0"/>
<rect x="108" y="463" width="3" height="12" fill="#c0c0c0"/>
<rect x="112" y="462" width="3" height="13" fill="#c0c0c0"/>
<rect x="116" y="463" width="3" height="12" fill="#c0c0c0"/>
<rect x="120" y="463" width="3" height="12" fill="#c0c0c0"/>
<rect x="124" y="465" width="3" height="10" fill="#c0c0c0"/>
<rect x="128" y="465" width="3" height="10" fill="#c0c0c0"/>
<rect x="132" y="466" width="3" height="9" fill="#c0c0c0"/>
<rect x="136" y="467" width="3" height="8" fill="#c0c0c0"/>
<rect x="140" y="468" width="3" height="7" fill="#c0c0c0"/>
<rect x="144" y="468" width="3" height="7" fill="#c0c0c0"/>
<rect x="148" y="469" width="3" height="6" fill="#c0c0c0"/>
<rect x="152" y="468" width="3" height="7" fill="#c0c0c0"/>
<rect x="156" y="470" width="3" height="5" fill="#c0c0c0"/>
<rect x="160" y="472" width="3" height="3" fill="#c0c0c0"/>
<rect x="164" y="473" width="3" height="2" fill="#c0c0c0"/>
<rect x="168" y="474" width="3" height="1" fill="#c0c0c0"/>
<rect x="172" y="474" width="3" height="1" fill="#c0c0c0"/>
<rect x="176" y="475" width="3" height="1" fill="#c0c0c0"/>
<rect x="180" y="475" width="3" height="3" fill="#c0c0c0"/>
<rect x="184" y="475" width="3" height="5" fill="#c0c0c0"/>
<rect x="188" y="475" width="3" height="6" fill="#c0c0c0"/>
<rect x="192" y="475" width="3" height="6" fill="#c0c0c0"/>
<rect x="196" y="475" width="3" height="6" fill="#c0c0c0"/>
<rect x="200" y="475" width="3" height="6" fill="#c0c0c0"/>
<rect x="204" y="475" width="3" height="7" fill="#c0c0c0"/>
<rect x="208" y="475" width="3" height="10" fill="#c0c0c0"/>
<rect x="212" y="475" width="3" height="10" fill="#c0c0c0"/>
<rect x="216" y="475" width="3" height="10" fill="#c0c0c0"/>
<rect x="220" y="475" width="3" height="12" fill="#c0c0c0"/>
<rect x="224" y="475" width="3" height="12" fill="#c0c0c0"/>
<rect x="228" y="475" width="3" height="12" fill="#c0c0c0"/>
<rect x="232" y="475" width="3" height="11" fill="#c0c0c0"/>
<rect x="236" y="475" width="3" height="11" fill="#c0c0c0"/>
<rect x="240" y="475" width="3" height="12" fill="#c0c0c0"/>
<rect x="244" y="475" width="3" height="12" fill="#c0c0c0"/>
<rect x="248" y="475" width="3" height="12" fill="#c0c0c0"/>
<rect x="252" y="475" width="3" height="10" fill="#c0c0c0"/>
<rect x="256" y="475" width="3" height="7" fill="#c0c0c0"/>
<rect x="260" y="475" width="3" height="5" fill="#c0c0c0"/>
<rect x="264" y="475" width="3" height="3" fill="#c0c0c0"/>
<rect x="268" y="475" width="3" height="1" fill="#c0c0c0"/>
<rect x="272" y="472" width="3" height="3" fill="#c0c0c0"/>
<rect x="276" y="470" width="3" height="5" fill="#c0c0c0"/>
<rect x="280" y="469" width="3" height="6" fill="#c0c0c0"/>
<rect x="284" y="468" width="3" height="7" fill="#c0c0c0"/>
<rect x="288" y="467" width="3" height="8" fill="#c0c0c0"/>
<rect x="292" y="465" width="3" height="10" fill="#c0c0c0"/>
<rect x="296" y="464" width="3" height="11" fill="#c0c0c0"/>
<rect x="300" y="462" width="3" height="13" fill="#c0c0c0"/>
<rect x="304" y="460" width="3" height="15" fill="#c0c0c0"/>
<rect x="308" y="463" width="3" height="12" fill="#c0c0c0"/>
<rect x="312" y="465" width="3" height="10" fill="#c0c0c0"/>
<rect x="316" y="468" width="3" height="7" fill="#c0c0c0"/>
<rect x="320" y="471" width="3" height="4" fill="#c0c0c0"/>
<rect x="324" y="472" width="3" height="3" fill="#c0c0c0"/>
<rect x="328" y="473" width="3" height="2" fill="#c0c0c0"/>
<rect x="332" y="475" width="3" height="1" fill="#c0c0c0"/>
<rect x="336" y="475" width="3" height="2" fill="#c0c0c0"/>
<rect x="340" y="475" width="3" height="1" fill="#c0c0c0"/>
<rect x="344" y="475" width="3" height="1" fill="#c0c0c0"/>
<rect x="348" y="475" width="3" height="2" fill="#c0c0c0"/>
<rect x="352" y="475" width="3" height="1" fill="#c0c0c0"/>
<rect x="356" y="475" width="3" height="2" fill="#c0c0c0"/>
<rect x="360" y="475" width="3" height="2" fill="#c0c0c0"/>
<rect x="364" y="475" width="3" height="2" fill="#c0c0c0"/>
<rect x="368" y="475" width="3" height="1" fill="#c0c0c0"/>
<rect x="372" y="475" width="3" height="1" fill="#c0c0c0"/>
<rect x="376" y="475" width="3" height="1" fill="#c0c0c0"/>
<rect x="380" y="475" width="3" height="2" fill="#c0c0c0"/>
<rect x="384" y="475" width="3" height="1" fill="#c0c0c0"/>
<rect x="388" y="475" width="3" height="1" fill="#c0c0c0"/>
<rect x="392" y="475" width="3" height="1" fill="#c0c0c0"/>
<rect x="396" y="475" width="3" height="2" fill="#c0c0c0"/>
<rect x="400" y="475" width="3" height="3" fill="#c0c0c0"/>
<rect x="404" y="475" width="3" height="4" fill="#c0c0c0"/>
<rect x="408" y="475" width="3" height="4" fill="#c0c0c0"/>
<rect x="412" y="475" width="3" height="5" fill="#c0c0c0"/>
<rect x="416" y="475" width="3" height="5" fill="#c0c0c0"/>
<rect x="420" y="475" width="3" height="7" fill="#c0c0c0"/>
<rect x="424" y="475" width="3" height="8" fill="#c0c0c0"/>
<rect x="428" y="475" width="3" height="9" fill="#c0c0c0"/>
<rect x="432" y="475" width="3" height="10" fill="#c0c0c0"/>
<rect x="436" y="475" width="3" height="9" fill="#c0c0c0"/>
<rect x="440" y="475" width="3" height="8" fill="#c0c0c0"/>
<rect x="444" y="475" width="3" height="8" fill="#c0c0c0"/>
<rect x="448" y="475" width="3" height="6" fill="#c0c0c0"/>
<rect x="452" y="475" width="3" height="5" fill="#c0c0c0"/>
<rect x="456" y="475" width="3" height="4" fill="#c0c0c0"/>
<rect x="460" y="475" width="3" height="1" fill="#c0c0c0"/>
<rect x="464" y="474" width="3" height="1" fill="#c0c0c0"/>
<rect x="468" y="475" width="3" height="2" fill="#c0c0c0"/>
<rect x="472" y="475" width="3" height="4" fill="#c0c0c0"/>
<rect x="476" y="475" width="3" height="5" fill="#c0c0c0"/>
<rect x="480" y="475" width="3" height="5" fill="#c0c0c0"/>
<rect x="484" y="475" width="3" height="6" fill="#c0c0c0"/>
<rect x="488" y="475" width="3" height="5" fill="#c0c0c0"/>
<rect x="492" y="475" width="3" height="5" fill="#c0c0c0"/>
<rect x="496" y="475" width="3" height="5" fill="#c0c0c0"/>
<rect x="500" y="475" width="3" height="6" fill="#c0c0c0"/>
<rect x="504" y="475" width="3" height="6" fill="#c0c0c0"/>
<rect x="508" y="475" width="3" height="6" fill="#c0c0c0"/>
<rect x="512" y="475" width="3" height="5" fill="#c0c0c0"/>
<rect x="516" y="475" width="3" height="2" fill="#c0c0c0"/>
<rect x="520" y="472" width="3" height="3" fill="#c0c0c0"/>
<rect x="524" y="469" width="3" height="6" fill="#c0c0c0"/>
<rect x="528" y="466" width="3" height="9" fill="#c0c0c0"/>
<rect x="532" y="466" width="3" height="9" fill="#c0c0c0"/>
<rect x="536" y="467" width="3" height="8" fill="#c0c0c0"/>
<rect x="540" y="469" width="3" height="6" fill="#c0c0c0"/>
<rect x="544" y="470" width="3" height="5" fill="#c0c0c0"/>
<rect x="548" y="469" width="3" height="6" fill="#c0c0c0"/>
<rect x="552" y="468" width="3" height="7" fill="#c0c0c0"/>
<rect x="556" y="468" width="3" height="7" fill="#c0c0c0"/>
<rect x="560" y="468" width="3" height="7" fill="#c0c0c0"/>
<rect x="564" y="468" width="3" height="7" fill="#c0c0c0"/>
<rect x="568" y="469" width="3" height="6" fill="#c0c0c0"/>
<rect x="572" y="469" width="3" height="6" fill="#c0c0c0"/>
<rect x="576" y="469" width="3" height="6" fill="#c0c0c0"/>
<rect x="580" y="469" width="3" height="6" fill="#c0c0c0"/>
<rect x="584" y="469" width="3" height="6" fill="#c0c0c0"/>
<rect x="588" y="470" width="3" height="5" fill="#c0c0c0"/>
<rect x="592" y="472" width="3" height="3" fill="#c0c0c0"/>
<rect x="596" y="473" width="3" height="2" fill="#c0c0c0"/>
<rect x="600" y="474" width="3" height="1" fill="#c0c0c0"/>
<rect x="604" y="475" width="3" height="2" fill="#c0c0c0"/>
<rect x="608" y="475" width="3" height="2" fill="#c0c0c0"/>
<rect x="612" y="475" width="3" height="3" fill="#c0c0c0"/>
<rect x="616" y="475" width="3" height="1" fill="#c0c0c0"/>
<rect x="620" y="475" width="3" height="1" fill="#c0c0c0"/>
<rect x="624" y="473" width="3" height="2" fill="#c0c0c0"/>
<rect x="628" y="475" width="3" height="1" fill="#c0c0c0"/>
<rect x="632" y="475" width="3" height="1" fill="#c0c0c0"/>
<rect x="636" y="475" width="3" height="2" fill="#c0c0c0"/>
<rect x="640" y="475" width="3" height="3" fill="#c0c0c0"/>
<rect x="644" y="475" width="3" height="3" fill="#c0c0c0"/>
<rect x="648" y="475" width="3" height="3" fill="#c0c0c0"/>
<rect x="652" y="475" width="3" height="2" fill="#c0c0c0"/>
<rect x="656" y="473" width="3" height="2" fill="#c0c0c0"/>
<rect x="660" y="472" width="3" height="3" fill="#c0c0c0"/>
<rect x="664" y="471" width="3" height="4" fill="#c0c0c0"/>
<rect x="668" y="468" width="3" height="7" fill="#c0c0c0"/>
<rect x="672" y="466" width="3" height="9" fill="#c0c0c0"/>
<rect x="676" y="463" width="3" height="12" fill="#c0c0c0"/>
<rect x="680" y="461" width="3" height="14" fill="#c0c0c0"/>
<rect x="684" y="459" width="3" height="16" fill="#c0c0c0"/>
<rect x="688" y="459" width="3" height="16" fill="#c0c0c0"/>
<rect x="692" y="460" width="3" height="15" fill="#c0c0c0"/>
<rect x="696" y="461" width="3" height="14" fill="#c0c0c0"/>
<rect x="700" y="462" width="3" height="13" fill="#c0c0c0"/>
<rect x="704" y="463" width="3" height="12" fill="#c0c0c0"/>
<rect x="708" y="464" width="3" height="11" fill="#c0c0c0"/>
<rect x="712" y="466" width="3" height="9" fill="#c0c0c0"/>
<rect x="716" y="467" width="3" height="8" fill="#c0c0c0"/>
<rect x="720" y="468" width="3" height="7" fill="#c0c0c0"/>
<rect x="724" y="468" width="3" height="7" fill="#c0c0c0"/>
<rect x="728" y="469" width="3" height="6" fill="#c0c0c0"/>
<rect x="732" y="472" width="3" height="3" fill="#c0c0c0"/>
<rect x="736" y="475" width="3" height="1" fill="#c0c0c0"/>
<rect x="740" y="475" width="3" height="1" fill="#c0c0c0"/>
<rect x="744" y="475" width="3" height="2" fill="#c0c0c0"/>
<rect x="748" y="475" width="3" height="3" fill="#c0c0c0"/>
<rect x="752" y="475" width="3" height="2" fill="#c0c0c0"/>
<rect x="756" y="475" width="3" height="1" fill="#c0c0c0"/>
<rect x="760" y="474" width="3" height="1" fill="#c0c0c0"/>
<rect x="764" y="473" width="3" height="2" fill="#c0c0c0"/>
<rect x="768" y="472" width="3" height="3" fill="#c0c0c0"/>
<rect x="772" y="472" width="3" height="3" fill="#c0c0c0"/>
<rect x="776" y="472" width="3" height="3" fill="#c0c0c0"/>
<rect x="780" y="472" width="3" height="3" fill="#c0c0c0"/>
<rect x="784" y="468" width="3" height="7" fill="#c0c0c0"/>
<rect x="788" y="466" width="3" height="9" fill="#c0c0c0"/>
<rect x="792" y="464" width="3" height="11" fill="#c0c0c0"/>
<rect x="796" y="462" width="3" height="13" fill="#c0c0c0"/>
<rect x="800" y="459" width="3" height="16" fill="#c0c0c0"/>
<rect x="804" y="458" width="3" height="17" fill="#c0c0c0"/>
<rect x="808" y="455" width="3" height="20" fill="#c0c0c0"/>
<rect x="812" y="453" width="3" height="22" fill="#c0c0c0"/>
<rect x="816" y="452" width="3" height="23" fill="#c0c0c0"/>
<rect x="820" y="450" width="3" height="25" fill="#c0c0c0"/>
<rect x="824" y="448" width="3" height="27" fill="#c0c0c0"/>
<rect x="828" y="445" width="3" height="30" fill="#c0c0c0"/>
<rect x="832" y="443" width="3" height="32" fill="#c0c0c0"/>
<rect x="836" y="441" width="3" height="34" fill="#c0c0c0"/>
<rect x="840" y="439" width="3" height="36" fill="#c0c0c0"/>
<rect x="844" y="437" width="3" height="38" fill="#c0c0c0"/>
<rect x="848" y="435" width="3" height="40" fill="#c0c0c0"/>
<rect x="852" y="437" width="3" height="38" fill="#c0c0c0"/>
<rect x="856" y="433" width="3" height="42" fill="#c0c0c0"/>
<rect x="860" y="431" width="3" height="44" fill="#c0c0c0"/>
<rect x="864" y="431" width="3" height="44" fill="#c0c0c0"/>
<rect x="868" y="429" width="3" height="46" fill="#c0c0c0"/>
<rect x="872" y="426" width="3" height="49" fill="#c0c0c0"/>
<rect x="876" y="426" width="3" height="49" fill="#c0c0c0"/>
<rect x="880" y="425" width="3" height="50" fill="#c0c0c0"/>
<rect x="884" y="423" width="3" height="52" fill="#c0c0c0"/>
<rect x="888" y="423" width="3" height="52" fill="#c0c0c0"/>
<rect x="892" y="423" width="3" height="52" fill="#c0c0c0"/>
<rect x="896" y="427" width="3" height="48" fill="#c0c0c0"/>
<rect x="900" y="432" width="3" height="43" fill="#c0c0c0"/>
<rect x="904" y="441" width="3" height="34" fill="#c0c0c0"/>
<rect x="908" y="447" width="3" height="28" fill="#c0c0c0"/>
<rect x="912" y="452" width="3" height="23" fill="#c0c0c0"/>
<rect x="916" y="459" width="3" height="16" fill="#c0c0c0"/>
<rect x="920" y="467" width="3" height="8" fill="#c0c0c0"/>
<rect x="924" y="472" width="3" height="3" fill="#c0c0c0"/>
<polyline points="5.5,474.5 19.8,475.4 29.7,475.4 39.6,474.8 49.5,474.1 59.5,472.9 69.4,470.5 79.3,467.9 89.2,465.5 99.1,464.5 109.0,464.1 128.8,464.1 138.7,464.5 148.6,466.1 158.5,467.5 168.5,469.5 178.4,471.5 186.3,473.5 192.2,476.0 198.2,477.4 208.1,479.4 218.0,482.4 227.9,484.0 236.0,485.4 243.9,486.3 253.8,486.3 265.7,484.0 275.6,479.4 285.5,474.5 295.5,470.1 305.4,466.1 311.3,464.5 323.2,464.5 335.1,467.5 345.0,472.1 354.9,474.5 364.8,476.0 374.7,475.4 382.6,476.0 394.5,475.4 404.5,476.8 414.4,477.4 424.3,478.8 434.2,480.4 444.1,482.0 454.0,482.4 463.9,480.8 472.0,478.4 483.9,478.4 499.7,478.8 501.7,479.8 517.6,479.8 523.5,478.0 531.5,475.4 539.4,472.1 547.3,469.5 553.3,468.1 567.1,468.1 569.1,469.1 594.9,469.1 602.8,470.5 610.7,472.9 620.6,474.1 630.5,474.8 636.5,475.6 650.4,475.6 666.2,475.2 674.1,473.5 682.1,470.5 690.0,466.1 695.9,463.6 701.9,462.6 708.0,461.4 717.9,462.6 727.8,464.9 737.7,468.5 747.6,472.1 753.6,473.5 761.5,474.1 775.4,474.1 783.3,472.9 791.2,470.5 799.2,467.5 807.1,464.5 817.0,459.6 826.9,455.6 834.8,450.7 842.8,446.7 850.7,443.1 858.6,439.2 866.5,435.8 874.5,432.8 882.4,429.9 888.3,427.3 894.3,425.9 898.3,425.3 904.2,426.3 910.1,429.3 916.1,434.8 921.0,440.8 924.6,446.3" fill="none" stroke="#ff0000" stroke-width="1" shape-rendering="crispEdges"/>
<text x="9.5" y="431" font-size="9.7" fill="#000" text-anchor="start" textLength="147" lengthAdjust="spacingAndGlyphs" stroke="#000" stroke-width="0.22">MACD(12,26,9) 0.000756 0.007898</text>
<text x="1171.3" y="428.3" font-size="9.7" fill="#000" text-anchor="start" textLength="37" lengthAdjust="spacingAndGlyphs" stroke="#000" stroke-width="0.22">0.015504</text>
<text x="1171.3" y="478.8" font-size="9.7" fill="#000" text-anchor="start" textLength="18.2" lengthAdjust="spacingAndGlyphs" stroke="#000" stroke-width="0.22">0.00</text>
<text x="1171.3" y="487.0" font-size="9.7" fill="#000" text-anchor="start" textLength="42.5" lengthAdjust="spacingAndGlyphs" stroke="#000" stroke-width="0.22">-0.004118</text>
<rect x="1168" y="419" width="2" height="1" fill="#000"/>
<rect x="1168" y="475" width="2" height="1" fill="#000"/>
<rect x="4" y="492" width="1164" height="1" fill="#000"/>
<rect x="4" y="492" width="1" height="75" fill="#000"/>
<rect x="4" y="566" width="1164" height="1" fill="#000"/>
<line x1="7" y1="515.5" x2="1167" y2="515.5" stroke="#c0c0c0" stroke-width="1" stroke-dasharray="3,3"/>
<line x1="7" y1="544.5" x2="1167" y2="544.5" stroke="#c0c0c0" stroke-width="1" stroke-dasharray="3,3"/>
<polyline points="5.5,527.3 9.5,529.2 13.5,529.6 17.5,530.6 21.5,531.6 25.5,531.2 29.5,529.2 33.5,523.7 37.5,522.1 41.5,529.2 45.5,527.7 49.5,527.7 53.5,523.3 57.5,526.3 61.5,526.3 65.5,519.3 69.5,516.8 73.5,516.2 77.5,521.7 81.5,527.3 85.5,524.7 89.5,526.3 93.5,526.7 97.5,526.7 101.5,525.3 105.5,522.7 109.5,518.7 113.5,520.1 117.5,523.3 121.5,524.7 125.5,529.6 129.5,526.7 133.5,527.3 137.5,526.3 141.5,528.6 145.5,527.3 149.5,527.3 153.5,524.7 157.5,532.6 161.5,531.2 165.5,533.6 169.5,532.2 173.5,532.2 177.5,533.6 181.5,537.2 185.5,538.6 189.5,540.5 193.5,539.5 197.5,534.6 201.5,534.0 205.5,536.6 209.5,542.5 213.5,537.6 217.5,536.2 221.5,541.1 225.5,534.6 229.5,537.6 233.5,536.6 237.5,536.6 241.5,536.6 245.5,534.6 249.5,537.6 253.5,529.6 257.5,525.3 261.5,526.7 265.5,526.7 269.5,522.7 273.5,518.7 277.5,520.1 281.5,524.1 285.5,521.7 289.5,521.3 293.5,518.7 297.5,518.3 301.5,516.8 305.5,516.2 309.5,532.0 313.5,530.2 317.5,531.6 321.5,534.6 325.5,533.2 329.5,533.6 333.5,535.6 337.5,534.6 341.5,527.3 345.5,528.0 349.5,532.2 353.5,529.6 357.5,531.6 361.5,531.6 365.5,530.2 369.5,528.0 373.5,528.0 377.5,533.6 381.5,528.0 385.5,529.2 389.5,531.2 393.5,529.2 397.5,533.2 401.5,534.6 405.5,533.2 409.5,533.2 413.5,535.6 417.5,535.6 421.5,539.1 425.5,539.1 429.5,541.5 433.5,540.5 437.5,530.6 441.5,533.6 445.5,531.2 449.5,526.3 453.5,530.6 457.5,529.2 461.5,521.1 465.5,525.3 469.5,533.6 473.5,536.4 477.5,534.6 481.5,533.2 485.5,533.2 489.5,530.6 493.5,532.2 497.5,530.6 501.5,535.6 505.5,534.2 509.5,532.2 513.5,527.7 517.5,522.7 521.5,518.3 525.5,518.3 529.5,518.3 533.5,523.7 537.5,529.2 541.5,531.6 545.5,530.6 549.5,525.3 553.5,526.3 557.5,528.2 561.5,526.3 565.5,527.3 569.5,525.3 573.5,526.3 577.5,527.3 581.5,527.3 585.5,526.7 589.5,531.2 593.5,533.2 597.5,531.2 601.5,531.6 605.5,537.6 609.5,530.6 613.5,534.2 617.5,526.3 621.5,525.3 625.5,525.7 629.5,534.6 633.5,533.2 637.5,531.2 641.5,533.2 645.5,533.2 649.5,531.2 653.5,526.3 657.5,522.3 661.5,526.7 665.5,523.3 669.5,520.7 673.5,520.1 677.5,517.3 681.5,516.2 685.5,516.2 689.5,522.1 693.5,527.3 697.5,526.3 701.5,525.3 705.5,525.7 709.5,528.2 713.5,530.2 717.5,528.2 721.5,528.2 725.5,525.7 729.5,528.0 733.5,536.6 737.5,536.6 741.5,533.6 745.5,533.2 749.5,532.2 753.5,528.6 757.5,525.3 761.5,523.3 765.5,524.3 769.5,524.7 773.5,528.2 777.5,526.7 781.5,525.3 785.5,517.3 789.5,517.3 793.5,518.3 797.5,515.8 801.5,511.2 805.5,516.4 809.5,513.8 813.5,512.4 817.5,513.4 821.5,512.4 825.5,510.4 829.5,507.8 833.5,506.3 837.5,507.4 841.5,506.3 845.5,505.3 849.5,505.3 853.5,513.4 857.5,508.4 861.5,508.2 865.5,507.2 869.5,506.3 873.5,505.3 877.5,507.2 881.5,505.3 885.5,505.3 889.5,506.3 893.5,506.3 897.5,516.8 901.5,523.7 905.5,533.2 909.5,531.2 913.5,532.2 917.5,536.6 921.5,539.1 925.5,538.2" fill="none" stroke="#1e90ff" stroke-width="1" shape-rendering="crispEdges"/>
<text x="9.5" y="504.5" font-size="9.7" fill="#000" text-anchor="start" textLength="67" lengthAdjust="spacingAndGlyphs" stroke="#000" stroke-width="0.22">RSI(14) 38.1406</text>
<text x="1171.5" y="503.3" font-size="9.7" fill="#000" text-anchor="start" textLength="14.5" lengthAdjust="spacingAndGlyphs" stroke="#000" stroke-width="0.22">100</text>
<text x="1171.5" y="518.8" font-size="9.7" fill="#000" text-anchor="start" textLength="9.7" lengthAdjust="spacingAndGlyphs" stroke="#000" stroke-width="0.22">70</text>
<text x="1171.5" y="547.3" font-size="9.7" fill="#000" text-anchor="start" textLength="9.7" lengthAdjust="spacingAndGlyphs" stroke="#000" stroke-width="0.22">30</text>
<text x="1171.5" y="562.8" font-size="9.7" fill="#000" text-anchor="start" textLength="4.9" lengthAdjust="spacingAndGlyphs" stroke="#000" stroke-width="0.22">0</text>
<rect x="1168" y="493" width="2" height="1" fill="#000"/>
<rect x="1168" y="565" width="2" height="1" fill="#000"/>
<rect x="5" y="567" width="1" height="3" fill="#000"/>
<text x="4.2" y="578.7" font-size="9.7" fill="#000" text-anchor="start" textLength="52.5" lengthAdjust="spacingAndGlyphs" stroke="#000" stroke-width="0.22">30 Aug 2021</text>
<rect x="69" y="567" width="1" height="3" fill="#000"/>
<text x="68.2" y="578.7" font-size="9.7" fill="#000" text-anchor="start" textLength="51.8" lengthAdjust="spacingAndGlyphs" stroke="#000" stroke-width="0.22">17 Sep 2021</text>
<rect x="133" y="567" width="1" height="3" fill="#000"/>
<text x="132.2" y="578.7" font-size="9.7" fill="#000" text-anchor="start" textLength="45.4" lengthAdjust="spacingAndGlyphs" stroke="#000" stroke-width="0.22">6 Oct 2021</text>
<rect x="197" y="567" width="1" height="3" fill="#000"/>
<text x="196.2" y="578.7" font-size="9.7" fill="#000" text-anchor="start" textLength="50.5" lengthAdjust="spacingAndGlyphs" stroke="#000" stroke-width="0.22">25 Oct 2021</text>
<rect x="261" y="567" width="1" height="3" fill="#000"/>
<text x="260.2" y="578.7" font-size="9.7" fill="#000" text-anchor="start" textLength="52.4" lengthAdjust="spacingAndGlyphs" stroke="#000" stroke-width="0.22">12 Nov 2021</text>
<rect x="325" y="567" width="1" height="3" fill="#000"/>
<text x="324.2" y="578.7" font-size="9.7" fill="#000" text-anchor="start" textLength="47.0" lengthAdjust="spacingAndGlyphs" stroke="#000" stroke-width="0.22">1 Dec 2021</text>
<rect x="389" y="567" width="1" height="3" fill="#000"/>
<text x="388.2" y="578.7" font-size="9.7" fill="#000" text-anchor="start" textLength="52.1" lengthAdjust="spacingAndGlyphs" stroke="#000" stroke-width="0.22">20 Dec 2021</text>
<rect x="453" y="567" width="1" height="3" fill="#000"/>
<text x="452.2" y="578.7" font-size="9.7" fill="#000" text-anchor="start" textLength="45.4" lengthAdjust="spacingAndGlyphs" stroke="#000" stroke-width="0.22">7 Jan 2022</text>
<rect x="517" y="567" width="1" height="3" fill="#000"/>
<text x="516.2" y="578.7" font-size="9.7" fill="#000" text-anchor="start" textLength="50.5" lengthAdjust="spacingAndGlyphs" stroke="#000" stroke-width="0.22">26 Jan 2022</text>
<rect x="581" y="567" width="1" height="3" fill="#000"/>
<text x="580.2" y="578.7" font-size="9.7" fill="#000" text-anchor="start" textLength="51.4" lengthAdjust="spacingAndGlyphs" stroke="#000" stroke-width="0.22">14 Feb 2022</text>
<rect x="645" y="567" width="1" height="3" fill="#000"/>
<text x="644.2" y="578.7" font-size="9.7" fill="#000" text-anchor="start" textLength="46.8" lengthAdjust="spacingAndGlyphs" stroke="#000" stroke-width="0.22">4 Mar 2022</text>
<rect x="709" y="567" width="1" height="3" fill="#000"/>
<text x="708.2" y="578.7" font-size="9.7" fill="#000" text-anchor="start" textLength="51.9" lengthAdjust="spacingAndGlyphs" stroke="#000" stroke-width="0.22">23 Mar 2022</text>
<rect x="773" y="567" width="1" height="3" fill="#000"/>
<text x="772.2" y="578.7" font-size="9.7" fill="#000" text-anchor="start" textLength="50.6" lengthAdjust="spacingAndGlyphs" stroke="#000" stroke-width="0.22">11 Apr 2022</text>
<rect x="837" y="567" width="1" height="3" fill="#000"/>
<text x="836.2" y="578.7" font-size="9.7" fill="#000" text-anchor="start" textLength="50.6" lengthAdjust="spacingAndGlyphs" stroke="#000" stroke-width="0.22">29 Apr 2022</text>
<rect x="901" y="567" width="1" height="3" fill="#000"/>
<text x="900.2" y="578.7" font-size="9.7" fill="#000" text-anchor="start" textLength="53.2" lengthAdjust="spacingAndGlyphs" stroke="#000" stroke-width="0.22">18 May 2022</text>
<rect x="0" y="587" width="1211" height="1" fill="#e3e3e3"/>
<rect x="0" y="588" width="1211" height="1" fill="#fff"/>
<rect x="0" y="590" width="1211" height="18" fill="#f0f0f0"/>
<rect x="0" y="608" width="1211" height="1" fill="#fcfcfc"/>
<rect x="0" y="609" width="1211" height="2" fill="#f0f0f0"/>
<rect x="0" y="589" width="1211" height="1" fill="#000"/>
<rect x="0" y="590" width="1" height="18" fill="#a0a0a0"/>
<rect x="1" y="590" width="1" height="18" fill="#696969"/>
<rect x="323" y="589" width="106" height="18" fill="#fff"/>
<rect x="322" y="589" width="1" height="19" fill="#000"/>
<rect x="429" y="589" width="1" height="19" fill="#000"/>
<rect x="322" y="607" width="108" height="1" fill="#000"/>
<text x="17.3" y="603.3" font-size="12" fill="#6e6e6e" text-anchor="start" textLength="77.4" lengthAdjust="spacingAndGlyphs">USDX,Weekly</text>
<text x="117" y="603.3" font-size="12" fill="#6e6e6e" text-anchor="start" textLength="85" lengthAdjust="spacingAndGlyphs">EURUSD-,Daily</text>
<text x="224.2" y="603.3" font-size="12" fill="#6e6e6e" text-anchor="start" textLength="87.1" lengthAdjust="spacingAndGlyphs">AUDUSD-,Daily</text>
<text x="334.7" y="603.3" font-size="12" fill="#000" text-anchor="start" textLength="83.3" lengthAdjust="spacingAndGlyphs">USDCHF-,Daily</text>
<text x="441.4" y="603.3" font-size="12" fill="#6e6e6e" text-anchor="start" textLength="85.6" lengthAdjust="spacingAndGlyphs">USDCAD-,Daily</text>
<text x="550.3" y="603.3" font-size="12" fill="#6e6e6e" text-anchor="start" textLength="88.0" lengthAdjust="spacingAndGlyphs">USDCNH-,Daily</text>
<text x="661.7" y="603.3" font-size="12" fill="#6e6e6e" text-anchor="start" textLength="100.3" lengthAdjust="spacingAndGlyphs">XAUUSD-,Weekly</text>
<text x="785.7" y="603.3" font-size="12" fill="#6e6e6e" text-anchor="start" textLength="68.3" lengthAdjust="spacingAndGlyphs">UKOil-,Daily</text>
<text x="877.2" y="603.3" font-size="12" fill="#6e6e6e" text-anchor="start" textLength="78.1" lengthAdjust="spacingAndGlyphs">DJ30-,Weekly</text>
<text x="977.2" y="603.3" font-size="12" fill="#6e6e6e" text-anchor="start" textLength="61.6" lengthAdjust="spacingAndGlyphs">UK100-,H1</text>
<text x="1062" y="603.3" font-size="12" fill="#6e6e6e" text-anchor="start" textLength="68.4" lengthAdjust="spacingAndGlyphs">USOil-,Daily</text>
<text x="1152.4" y="603.3" font-size="12" fill="#6e6e6e" text-anchor="start" textLength="31.5" lengthAdjust="spacingAndGlyphs">HK50</text>
<rect x="1177" y="590" width="34" height="18" fill="#f0f0f0"/>
<rect x="1175" y="590" width="2" height="18" fill="#f0f0f0" opacity="0.6"/>
<rect x="106" y="592" width="1" height="14" fill="#6e6e6e"/>
<rect x="214" y="592" width="1" height="14" fill="#6e6e6e"/>
<rect x="539" y="592" width="1" height="14" fill="#6e6e6e"/>
<rect x="650" y="592" width="1" height="14" fill="#6e6e6e"/>
<rect x="775" y="592" width="1" height="14" fill="#6e6e6e"/>
<rect x="866" y="592" width="1" height="14" fill="#6e6e6e"/>
<rect x="966" y="592" width="1" height="14" fill="#6e6e6e"/>
<rect x="1050" y="592" width="1" height="14" fill="#6e6e6e"/>
<rect x="1142" y="592" width="1" height="14" fill="#6e6e6e"/>
<path d="M1186 594.5 L1182.5 598 L1186 601.5 Z" fill="#a0a0a0" shape-rendering="auto"/>
<path d="M1202 594 L1205.5 598 L1202 602 Z" fill="#000" shape-rendering="auto"/>
</svg></body></html>
